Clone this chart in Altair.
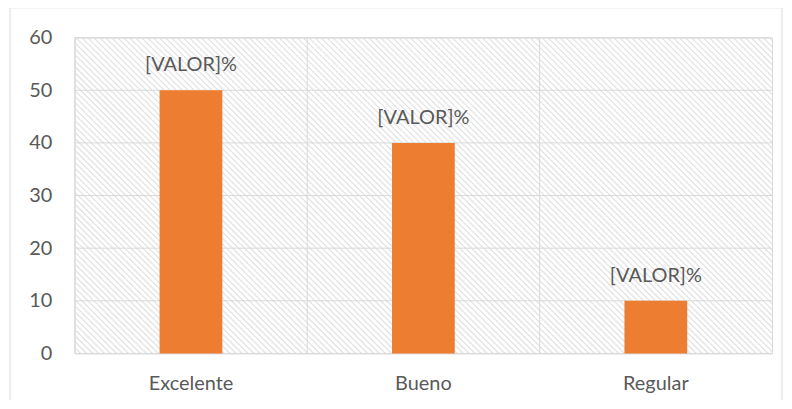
import altair as alt
import pandas as pd
import numpy as np

categories = ["Excelente", "Bueno", "Regular"]
values = [50, 40, 10]
labels = ["[VALOR]%", "[VALOR]%", "[VALOR]%"]
y_ticks = [0, 10, 20, 30, 40, 50, 60]

W, H = 700, 317
df = pd.DataFrame({"cat": categories, "val": values, "lab": labels})
ticks_df = pd.DataFrame({"t": y_ticks})

# decorative diagonal hatch texture (pixel space)
offs = np.arange(-H - 6, W + 6, 6)
hatch_df = pd.DataFrame({"a": offs, "b": offs + H})

xscale = alt.Scale(type="band", paddingInner=0, paddingOuter=0, domain=categories)
yscale = alt.Scale(domain=[0, 60], nice=False)

border = alt.Chart(pd.DataFrame({"d": [0]})).mark_rect(
    fill=None, stroke="#d9d9d9", strokeWidth=1
).encode(x=alt.value(-65), x2=alt.value(710), y=alt.value(-30), y2=alt.value(400))

hatch = alt.Chart(hatch_df).mark_rule(clip=True, stroke="#e3e3e3", strokeWidth=1.3).encode(
    x=alt.X("a:Q", scale=None, axis=None),
    x2="b:Q",
    y=alt.value(0),
    y2=alt.value(H),
)

hgrid = alt.Chart(ticks_df).mark_rule(stroke="#d9d9d9", strokeWidth=1).encode(
    y=alt.Y("t:Q", scale=yscale,
            axis=alt.Axis(orient="left", values=y_ticks, title=None, domain=False,
                          ticks=False, grid=False, labelPadding=23))
)

vgrid = alt.Chart(df).mark_rule(stroke="#d9d9d9", strokeWidth=1).encode(
    x=alt.X("cat:N", scale=xscale, sort=categories, bandPosition=0,
            axis=alt.Axis(orient="bottom", title=None, domain=False, ticks=False,
                          grid=False, labelAngle=0, labelPadding=20, bandPosition=0.5))
)

bars = alt.Chart(df).mark_bar(size=63, color="#ED7D31").encode(
    x=alt.X("cat:N", scale=xscale, sort=categories),
    y=alt.Y("val:Q", scale=yscale),
)

text = alt.Chart(df).mark_text(
    font="Lato", fontSize=20, color="#595959", baseline="alphabetic", dy=-19
).encode(
    x=alt.X("cat:N", scale=xscale, sort=categories),
    y=alt.Y("val:Q", scale=yscale),
    text="lab:N",
)

main = alt.layer(hgrid, vgrid, bars, text)

chart = alt.layer(border, hatch, main).resolve_scale(x="independent").properties(
    width=W, height=H,
    background="white",
    autosize=alt.AutoSizeParams(type="none"),
    padding={"left": 67, "top": 29, "right": 12, "bottom": 46},
).configure_view(stroke="#d9d9d9", strokeWidth=1).configure_axis(
    labelFont="Lato", labelFontSize=20, labelColor="#595959"
)

chart.save("out.html", embed_options={"renderer": "svg", "actions": False})
